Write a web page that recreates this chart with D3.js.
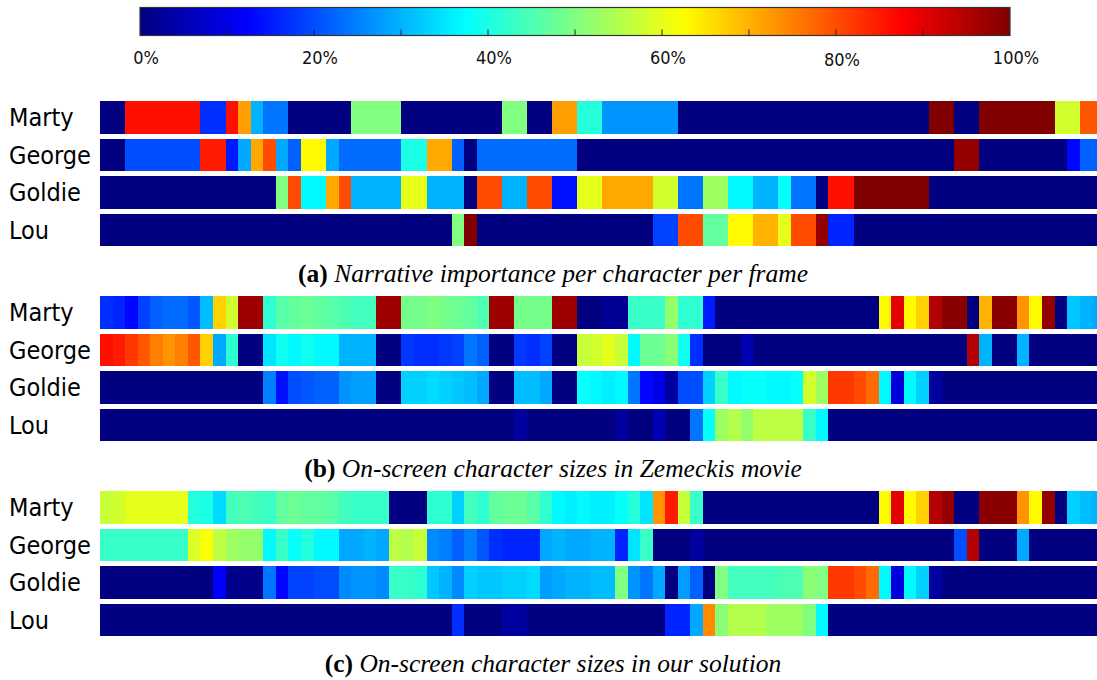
<!DOCTYPE html>
<html><head><meta charset="utf-8">
<script src="https://cdn.jsdelivr.net/npm/d3@7"></script>
<style>body{margin:0;background:#fff;overflow:hidden} svg{display:block}</style>
</head><body><svg id="c" width="1097" height="680"></svg>
<script>
const characters = ["Marty","George","Goldie","Lou"];
const captionTags = ["(a)","(b)","(c)"];
const captionTexts = ["Narrative importance per character per frame","On-screen character sizes in Zemeckis movie","On-screen character sizes in our solution"];
const colorbarTicks = [0,0.2,0.4,0.6,0.8,1];
const colorbarTickLabels = ["0%","20%","40%","60%","80%","100%"];
const colorbarMinorTicks = [0.1,0.2,0.3,0.4,0.5,0.6,0.7,0.8,0.9];
const frames = d3.range(80);

// (a) Narrative importance
const aMarty = [0,0,.86,.86,.86,.86,.86,.86,.17,.17,
 .86,.72,.30,.24,.24,0,0,0,0,0,
 .5,.5,.5,.5,0,0,0,0,0,0,
 0,0,.5,.5,0,0,.72,.72,.41,.41,
 .27,.27,.27,.27,.27,.27,0,0,0,0,
 0,0,0,0,0,0,0,0,0,0,
 0,0,0,0,0,0,1,1,0,0,
 1,1,1,1,1,1,.58,.58,.79,.79];
const aGeorge = [0,0,.2,.2,.2,.2,.2,.2,.85,.85,
 .15,.29,.71,.8,.29,.22,.63,.63,.29,.23,
 .23,.23,.23,.23,.4,.4,.71,.71,.22,0,
 .23,.23,.23,.23,.23,.23,.23,.23,0,0,
 0,0,0,0,0,0,0,0,0,0,
 0,0,0,0,0,0,0,0,0,0,
 0,0,0,0,0,0,0,0,.98,.98,
 0,0,0,0,0,0,0,.13,.22,.22];
const aGoldie = [0,0,0,0,0,0,0,0,0,0,
 0,0,0,0,.5,.8,.37,.37,.71,.8,
 .3,.3,.3,.3,.6,.6,.3,.3,.3,0,
 .8,.8,.3,.3,.8,.8,.14,.14,.6,.6,
 .71,.71,.71,.71,.58,.58,.24,.24,.53,.53,
 .37,.37,.3,.3,.38,.24,.24,0,.86,.86,
 1,1,1,1,1,1,0,0,0,0,
 0,0,0,0,0,0,0,0,0,0];
const aLou = [0,0,0,0,0,0,0,0,0,0,
 0,0,0,0,0,0,0,0,0,0,
 0,0,0,0,0,0,0,0,.5,1,
 0,0,0,0,0,0,0,0,0,0,
 0,0,0,0,.19,.19,.8,.8,.47,.47,
 .63,.63,.7,.7,.6,.8,.8,.98,.16,.16,
 0,0,0,0,0,0,0,0,0,0,
 0,0,0,0,0,0,0,0,0,0];

// (b) Zemeckis movie
const bMarty = [.17,.16,.13,.19,.22,.23,.23,.21,.31,.67,
 .58,.97,.97,.42,.46,.47,.48,.47,.46,.45,
 .44,.44,.97,.97,.49,.49,.5,.49,.48,.47,
 .45,.97,.97,.49,.49,.49,.97,.97,0,0,
 .02,.02,.43,.43,.43,.52,.42,.42,.15,0,
 0,0,0,0,0,0,0,0,0,0,
 0,0,.63,.9,.63,.67,.95,.99,.99,0,
 .7,.99,.99,.73,.63,.98,0,.32,.3,.29];
const bGeorge = [.86,.85,.82,.79,.75,.73,.75,.79,.67,.29,
 .42,0,0,.35,.39,.37,.39,.37,.37,.3,
 .3,.3,0,0,.18,.17,.17,.18,.19,.24,
 .22,0,0,.18,.17,.19,0,0,.57,.58,
 .6,.57,.37,.48,.48,.51,.39,.17,0,0,
 0,.05,0,0,0,0,0,0,0,0,
 0,0,0,0,0,0,0,0,0,.95,
 .3,0,0,.3,0,0,0,0,0,0];
const bGoldie = [0,0,0,0,0,0,0,0,0,0,
 0,0,0,.25,.14,.2,.21,.22,.22,.27,
 .28,.28,0,0,.33,.33,.34,.33,.32,.31,
 .29,0,0,.31,.31,.29,0,0,.38,.37,
 .36,.37,.24,.13,.1,.03,.2,.2,.33,.43,
 .37,.38,.38,.37,.37,.38,.58,.53,.82,.82,
 .8,.77,.37,.09,.37,.33,.03,0,0,0,
 0,0,0,0,0,0,0,0,0,0];
const bLou = [0,0,0,0,0,0,0,0,0,0,
 0,0,0,0,0,0,0,0,0,0,
 0,0,0,0,0,0,0,0,0,0,
 0,0,0,.03,0,0,0,0,0,0,
 0,.03,0,0,.05,0,0,.24,.38,.53,
 .55,.52,.56,.56,.56,.56,.43,.37,0,0,
 0,0,0,0,0,0,0,0,0,0,
 0,0,0,0,0,0,0,0,0,0];

// (c) our solution
const cMarty = [.57,.58,.6,.6,.6,.6,.6,.41,.4,.34,
 .44,.45,.44,.43,.47,.48,.47,.47,.46,.44,
 .43,.43,.43,0,0,0,.42,.42,.33,.44,
 .42,.47,.48,.48,.46,.42,.37,.36,.37,.36,
 .36,.38,.41,.35,.73,.85,.57,.43,0,0,
 0,0,0,0,0,0,0,0,0,0,
 0,0,.63,.9,.63,.67,.95,.98,0,0,
 .99,.99,.99,.73,.63,.98,0,.33,.31,.3];
const cGeorge = [.43,.43,.43,.43,.43,.43,.43,.59,.62,.56,
 .53,.52,.52,.37,.43,.38,.41,.37,.37,.29,
 .29,.3,.29,.56,.55,.57,.26,.25,.22,.25,
 .21,.17,.16,.16,.16,.29,.3,.29,.29,.3,
 .3,.16,.35,.43,0,0,0,.03,0,0,
 0,0,0,0,0,0,0,0,0,0,
 0,0,0,0,0,0,0,0,.2,.95,
 0,0,0,.29,0,0,0,0,0,0];
const cGoldie = [0,0,0,0,0,0,0,0,0,.12,
 .01,.01,.01,.24,.13,.19,.19,.2,.2,.26,
 .27,.27,.26,.43,.43,.42,.32,.3,.26,.33,
 .32,.32,.33,.33,.34,.28,.29,.3,.3,.31,
 .31,.5,.27,.24,.29,0,.28,.22,0,.5,
 .44,.44,.44,.44,.45,.45,.51,.5,.82,.82,
 .8,.77,.37,.09,.37,.33,.03,0,0,0,
 0,0,0,0,0,0,0,0,0,0];
const cLou = [0,0,0,0,0,0,0,0,0,0,
 0,0,0,0,0,0,0,0,0,0,
 0,0,0,0,0,0,0,0,.17,0,
 0,0,.03,.03,0,0,0,0,0,0,
 0,0,0,0,0,.16,.16,.29,.74,.51,
 .55,.55,.55,.53,.53,.53,.5,.37,0,0,
 0,0,0,0,0,0,0,0,0,0,
 0,0,0,0,0,0,0,0,0,0];

const panels = [[aMarty,aGeorge,aGoldie,aLou],[bMarty,bGeorge,bGoldie,bLou],[cMarty,cGeorge,cGoldie,cLou]];

function jet(v){
  const c = t => Math.max(0, Math.min(1, t));
  const r = c(1.5 - Math.abs(4*v - 3)), g = c(1.5 - Math.abs(4*v - 2)), b = c(1.5 - Math.abs(4*v - 1));
  return d3.rgb(r*255, g*255, b*255).formatHex();
}

const svg = d3.select("#c");
const color = d3.scaleSequential(jet).domain([0,1]);

// Colorbar
const cb = {x0:140, x1:1010, y:7.5, h:28};
const cx = d3.scaleLinear().domain([0,1]).range([cb.x0, cb.x1]);
const grad = svg.append("defs").append("linearGradient").attr("id","jet").attr("x1","0%").attr("x2","100%");
grad.selectAll("stop").data(d3.range(0, 1.0001, 0.025)).join("stop")
  .attr("offset", d => (d*100)+"%").attr("stop-color", d => color(d));
svg.append("rect").attr("x",cb.x0).attr("y",cb.y).attr("width",cb.x1-cb.x0).attr("height",cb.h)
  .attr("fill","url(#jet)").attr("stroke","#333").attr("stroke-width",1.2);
svg.append("g").selectAll("line").data(colorbarMinorTicks).join("line")
  .attr("x1",d=>cx(d)).attr("x2",d=>cx(d)).attr("y1",cb.y+cb.h).attr("y2",cb.y+cb.h-6)
  .attr("stroke","#222").attr("stroke-width",1);
svg.append("g").selectAll("text").data(colorbarTicks).join("text")
  .attr("x",d=>cx(d)+6).attr("y",(d,i)=> i===4 ? 66 : 64)
  .attr("text-anchor","middle")
  .style("font-family","'DejaVu Sans Condensed','DejaVu Sans',sans-serif").style("font-stretch","condensed")
  .style("font-size","18px").attr("fill","#111")
  .text((d,i)=>colorbarTickLabels[i]);

// Heatmaps
const colW = 12.56;
const x = d3.scaleBand().domain(frames).range([100, 100 + frames.length*colW]).padding(0);
const panelTops = [101, 296, 491];
const rowPitch = 37.5, rowH = 32.5;

panels.forEach((rows, p) => {
  const g = svg.append("g");
  rows.forEach((vals, r) => {
    const y0 = panelTops[p] + r*rowPitch;
    g.append("g").selectAll("rect").data(vals).join("rect")
      .attr("x",(d,i)=>x(frames[i])).attr("y",y0)
      .attr("width",x.bandwidth()+0.6).attr("height",rowH)
      .attr("fill",d=>color(d)).attr("shape-rendering","crispEdges");
    g.append("text").attr("x",9).attr("y",y0+rowH/2).attr("dy","0.36em")
      .style("font-family","'DejaVu Sans Condensed','DejaVu Sans',sans-serif").style("font-stretch","condensed")
      .style("font-size","25px").attr("fill","#000").text(characters[r]);
  });
  const t = svg.append("text").attr("x",553).attr("y",panelTops[p] + 3*rowPitch + rowH + 36)
    .attr("text-anchor","middle").style("font-family","'Liberation Serif','Times New Roman',serif")
    .style("font-size","25.5px").attr("fill","#000");
  t.append("tspan").style("font-weight","bold").text(captionTags[p]);
  t.append("tspan").style("font-style","italic").text(" " + captionTexts[p]);
});
</script></body></html>
